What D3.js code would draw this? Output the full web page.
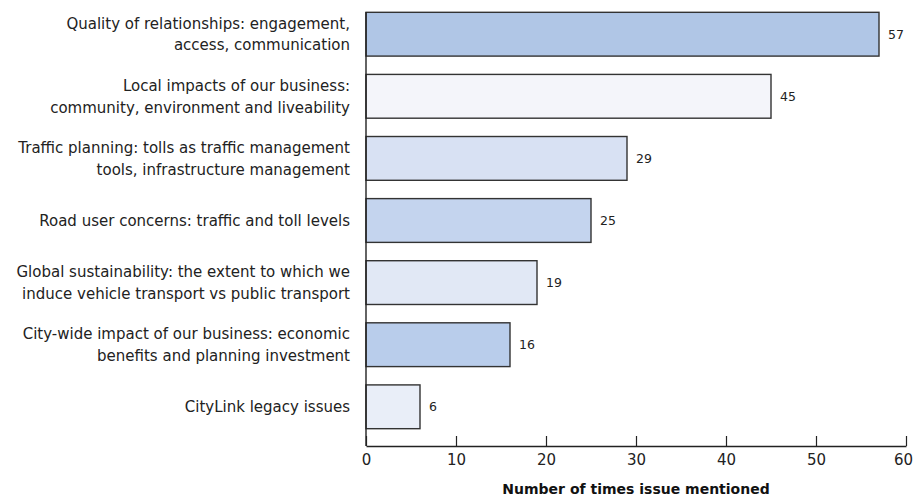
<!DOCTYPE html>
<html>
<head>
<meta charset="utf-8">
<script src="https://cdn.jsdelivr.net/npm/d3@7"></script>
<style>
  html, body { margin: 0; padding: 0; background: #fff; }
  svg { display: block; font-family: "DejaVu Sans", sans-serif; }
</style>
</head>
<body>
<svg id="chart" width="913" height="497"></svg>
<script>
// Issues raised by stakeholders and how often each was mentioned
const categories = [
  ["Quality of relationships: engagement,", "access, communication"],
  ["Local impacts of our business:", "community, environment and liveability"],
  ["Traffic planning: tolls as traffic management", "tools, infrastructure management"],
  ["Road user concerns: traffic and toll levels"],
  ["Global sustainability: the extent to which we", "induce vehicle transport vs public transport"],
  ["City-wide impact of our business: economic", "benefits and planning investment"],
  ["CityLink legacy issues"]
];
const mentions = [57, 45, 29, 25, 19, 16, 6];
const barColors = ["#b0c6e6", "#f4f5fa", "#d8e1f3", "#c4d4ee", "#e1e8f5", "#b9cdeb", "#e9eef8"];
const xTicks = [0, 10, 20, 30, 40, 50, 60];
const xTitle = "Number of times issue mentioned";

const svg = d3.select("#chart");
const plotLeft = 366, plotRight = 906, plotTop = 3, axisY = 446;

const x = d3.scaleLinear().domain([0, 60]).range([plotLeft, plotRight]);
const y = d3.scaleBand()
  .domain(d3.range(categories.length))
  .range([plotTop, axisY - 8])
  .paddingInner(0.295)
  .paddingOuter(0.15);

// bars
svg.append("g").selectAll("rect")
  .data(mentions)
  .join("rect")
  .attr("x", x(0))
  .attr("y", (d, i) => y(i))
  .attr("width", d => x(d) - x(0))
  .attr("height", y.bandwidth())
  .attr("fill", (d, i) => barColors[i])
  .attr("stroke", "#333")
  .attr("stroke-width", 1.4);

// value labels
svg.append("g").selectAll("text")
  .data(mentions)
  .join("text")
  .attr("x", d => x(d) + 9)
  .attr("y", (d, i) => y(i) + y.bandwidth() / 2)
  .attr("dy", "0.35em")
  .attr("font-size", 12.5)
  .attr("fill", "#222")
  .text(d => d);

// category labels
const lab = svg.append("g").selectAll("text")
  .data(categories)
  .join("text")
  .attr("text-anchor", "end")
  .attr("font-size", 15)
  .attr("fill", "#222")
  .attr("y", (d, i) => y(i) + y.bandwidth() / 2);
lab.selectAll("tspan")
  .data(d => d.map((t, k) => ({ t, k, n: d.length })))
  .join("tspan")
  .attr("x", 350)
  .attr("dy", d => d.k === 0 ? (0.35 - (d.n - 1) * 0.73) + "em" : "1.46em")
  .text(d => d.t);

// vertical baseline
svg.append("line")
  .attr("x1", x(0)).attr("x2", x(0))
  .attr("y1", plotTop + 9).attr("y2", axisY)
  .attr("stroke", "#222").attr("stroke-width", 1.4);

// x axis with upward ticks
const xAxis = svg.append("g")
  .attr("transform", `translate(0,${axisY})`)
  .call(d3.axisBottom(x).tickValues(xTicks).tickSizeInner(-10).tickSizeOuter(0).tickPadding(4));
xAxis.select(".domain").attr("stroke", "#222").attr("stroke-width", 1.4);
xAxis.selectAll(".tick line").attr("stroke", "#222").attr("stroke-width", 1.2);
xAxis.selectAll(".tick text")
  .attr("y", 8)
  .attr("dy", "0.71em")
  .attr("font-size", 15)
  .attr("font-family", "DejaVu Sans, sans-serif")
  .attr("fill", "#222");
// keep the last tick label inside the right edge
xAxis.selectAll(".tick text").filter(d => d === 60).attr("x", -3);

// axis title
svg.append("text")
  .attr("x", (plotLeft + plotRight) / 2)
  .attr("y", 489)
  .attr("dy", "0.35em")
  .attr("text-anchor", "middle")
  .attr("font-size", 14)
  .attr("font-weight", "bold")
  .attr("fill", "#111")
  .text(xTitle);
</script>
</body>
</html>
